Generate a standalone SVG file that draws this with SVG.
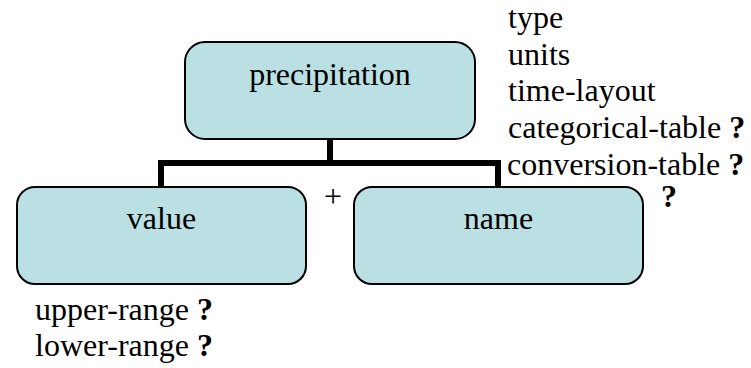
<svg xmlns="http://www.w3.org/2000/svg" width="751" height="368" viewBox="0 0 751 368">
<style>
.box{fill:#BAE0E3;stroke:#000;stroke-width:2}
text{font-family:'Liberation Serif','Times New Roman',Times,serif;font-size:32px;fill:#000}
.c{text-anchor:middle}
.q{font-weight:bold}
.conn{fill:none;stroke:#000;stroke-width:6}
</style>
<rect width="751" height="368" fill="#fff"/>
<g id="connectors">
<path class="conn" d="M330,139 V163 M161,187 V163 H498 V187"/>
</g>
<g id="precipitation">
<rect class="box" x="185" y="42" width="290" height="97" rx="20" ry="20"/>
<text class="c" x="330" y="85" font-family="Liberation Serif, serif">precipitation</text>
</g>
<g id="value">
<rect class="box" x="17" y="187" width="289" height="97" rx="18" ry="18"/>
<text class="c" x="161.5" y="229">value</text>
</g>
<g id="name">
<rect class="box" x="354" y="187" width="289" height="97" rx="18" ry="18"/>
<text class="c" x="498.5" y="229">name</text>
</g>
<g id="labels">
<text x="333" y="207" text-anchor="middle">+</text>
<text class="q" x="661" y="207">?</text>
<text x="508" y="28">type</text>
<text x="508" y="65">units</text>
<text x="508" y="101">time-layout</text>
<text x="508" y="138">categorical-table <tspan class="q">?</tspan></text>
<text x="507" y="175">conversion-table <tspan class="q">?</tspan></text>
<text x="35" y="320">upper-range <tspan class="q">?</tspan></text>
<text x="35" y="356">lower-range <tspan class="q">?</tspan></text>
</g>
</svg>
